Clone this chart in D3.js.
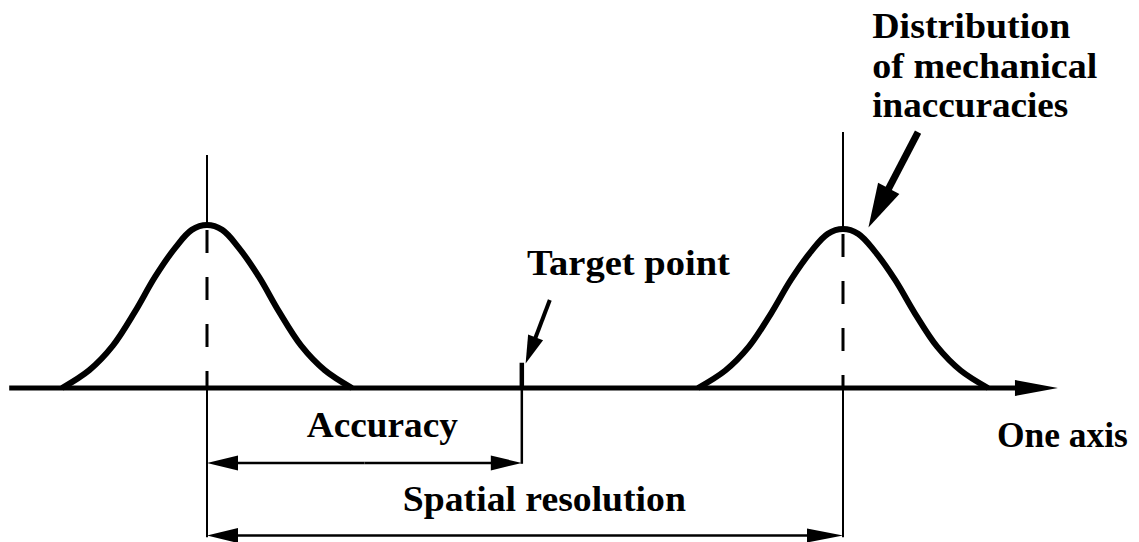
<!DOCTYPE html>
<html>
<head>
<meta charset="utf-8">
<script src="https://d3js.org/d3.v7.min.js"></script>
<style>
body { margin: 0; background: #fff; }
text { font-family: "Liberation Serif", "Times New Roman", serif; font-weight: bold; font-size: 36px; fill: #000; }
</style>
</head>
<body>
<svg id="graph1"></svg>
<script>
// bell shape: offset from centre (axis units) and relative height
var profileOffset = [-22.8, -18.5, -14.8, -11.3, -8.2, -5.0, -2.4, 0, 2.4, 5.0, 8.2, 11.3, 14.8, 18.5, 22.8]
var profileHeight = [0, 0.11, 0.26, 0.47, 0.68, 0.86, 0.97, 1, 0.97, 0.86, 0.68, 0.47, 0.26, 0.11, 0]

// the two distributions (centre on the axis, peak height)
var curveCenters = [0, 100]
var curvePeaks = [1, 0.975]
var guideTops = [1.43, 1.57]

var targetPoint = 49.5
var axisExtent = [-31.1, 133.8]

var labelTexts = ["Target point", "Accuracy", "Spatial resolution", "One axis"]
var noteLines = ["Distribution", "of mechanical", "inaccuracies"]


var screen = {width: 1139, height: 542}

var svg = d3.select("#graph1")
    .attr("width", screen.width)
    .attr("height", screen.height)

var xScale = d3.scaleLinear()
    .domain([0, 100])
    .range([207, 843])

var yScale = d3.scaleLinear()
    .domain([0, 1])
    .range([388, 225])

// draws a line with a filled head at (x2,y2), everything in pixels
var drawArrow = function(target, x1, y1, x2, y2, width, len, half)
{
    var dx = x2 - x1, dy = y2 - y1
    var d = Math.sqrt(dx * dx + dy * dy)
    var ux = dx / d, uy = dy / d
    var bx = x2 - ux * len, by = y2 - uy * len

    target.append("line")
        .attr("x1", x1).attr("y1", y1)
        .attr("x2", bx + ux * 2).attr("y2", by + uy * 2)
        .attr("stroke", "black")
        .attr("stroke-width", width)

    target.append("polygon")
        .attr("points", [[x2, y2], [bx - uy * half, by + ux * half], [bx + uy * half, by - ux * half]]
            .map(function(p) { return p.join(",") }).join(" "))
        .attr("fill", "black")
}

var drawGuides = function(target)
{
    curveCenters.forEach(function(c, i)
    {
        // solid above the peak
        target.append("line")
            .attr("x1", xScale(c)).attr("x2", xScale(c))
            .attr("y1", yScale(guideTops[i])).attr("y2", yScale(curvePeaks[i]))
            .attr("stroke", "black").attr("stroke-width", 2)
        // dashed under the curve
        target.append("line")
            .attr("x1", xScale(c)).attr("x2", xScale(c))
            .attr("y1", yScale(curvePeaks[i])).attr("y2", yScale(0))
            .attr("stroke", "black").attr("stroke-width", 3)
            .attr("stroke-dasharray", "23,24")
            .attr("stroke-dashoffset", 42)
        // solid below the axis
        target.append("line")
            .attr("x1", xScale(c)).attr("x2", xScale(c))
            .attr("y1", yScale(0)).attr("y2", yScale(-0.915))
            .attr("stroke", "black").attr("stroke-width", 2)
    })
}

var drawCurves = function(target)
{
    var lineGenerator = d3.line()
        .x(function(p) { return xScale(p.x) })
        .y(function(p) { return yScale(p.y) })
        .curve(d3.curveCatmullRom)

    target.selectAll("path.bell")
        .data(curveCenters)
        .enter()
        .append("path")
        .classed("bell", true)
        .attr("d", function(c, i)
        {
            return lineGenerator(profileOffset.map(function(o, j)
            {
                return {x: c + o, y: profileHeight[j] * curvePeaks[i]}
            }))
        })
        .attr("fill", "none")
        .attr("stroke", "black")
        .attr("stroke-width", 6)
        .attr("stroke-linejoin", "round")
}

var drawAxis = function(target)
{
    drawArrow(target, xScale(axisExtent[0]), yScale(0), xScale(axisExtent[1]), yScale(0), 5, 43, 8)

    // target point mark
    target.append("line")
        .attr("x1", xScale(targetPoint)).attr("x2", xScale(targetPoint))
        .attr("y1", yScale(0.155)).attr("y2", yScale(0))
        .attr("stroke", "black").attr("stroke-width", 4.5)
    target.append("line")
        .attr("x1", xScale(targetPoint)).attr("x2", xScale(targetPoint))
        .attr("y1", yScale(0)).attr("y2", yScale(-0.465))
        .attr("stroke", "black").attr("stroke-width", 2.5)
}

var drawDimensions = function(target)
{
    var yAcc = yScale(-0.46)
    var ySpa = yScale(-0.905)
    var mid = (xScale(0) + xScale(targetPoint)) / 2
    drawArrow(target, mid, yAcc, xScale(0), yAcc, 2.5, 31, 7.5)
    drawArrow(target, mid, yAcc, xScale(targetPoint), yAcc, 2.5, 31, 7.5)

    var mid2 = (xScale(0) + xScale(100)) / 2
    drawArrow(target, mid2, ySpa, xScale(0), ySpa, 2.5, 31, 7.5)
    drawArrow(target, mid2, ySpa, xScale(100), ySpa, 2.5, 36, 7)
}

var drawLabels = function(target)
{
    var spots = [
        {x: 50.3, y: 0.695, w: 203},
        {x: 15.7, y: -0.3, w: 151},
        {x: 30.8, y: -0.755, w: 283},
        {x: 124.2, y: -0.36, w: 131}
    ]
    labelTexts.forEach(function(t, i)
    {
        target.append("text")
            .text(t)
            .attr("x", xScale(spots[i].x))
            .attr("y", yScale(spots[i].y))
            .attr("textLength", spots[i].w)
            .attr("lengthAdjust", "spacingAndGlyphs")
    })

    var noteY = [2.145, 1.9, 1.66]
    var noteW = [198, 225, 196]
    noteLines.forEach(function(t, i)
    {
        target.append("text")
            .text(t)
            .attr("x", xScale(104.6))
            .attr("y", yScale(noteY[i]))
            .attr("textLength", noteW[i])
            .attr("lengthAdjust", "spacingAndGlyphs")
    })

    // pointers
    drawArrow(target, xScale(53.9), yScale(0.54), xScale(50.1), yScale(0.15), 4, 28, 8)
    drawArrow(target, xScale(111.8), yScale(1.57), xScale(104.0), yScale(0.985), 7, 44, 12)
}

var g = svg.append("g")
drawGuides(g)
drawCurves(g)
drawAxis(g)
drawDimensions(g)
drawLabels(g)
</script>
</body>
</html>
